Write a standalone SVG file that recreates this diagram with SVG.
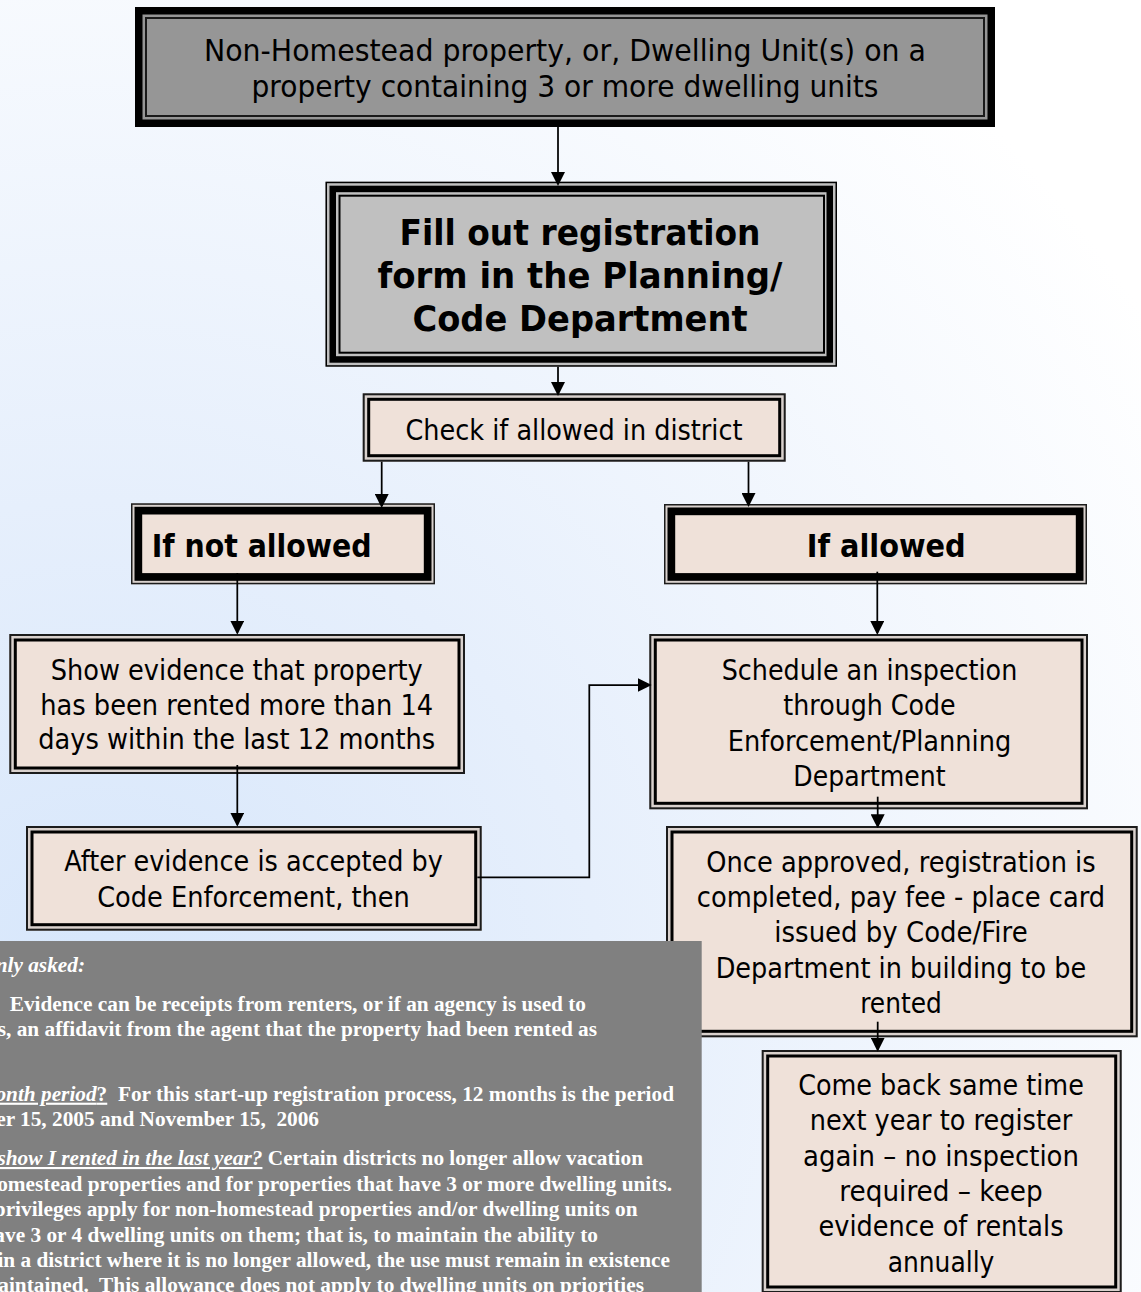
<svg xmlns="http://www.w3.org/2000/svg" width="1141" height="1292" viewBox="0 0 1141 1292">
<defs>
<radialGradient id="bg" gradientUnits="userSpaceOnUse" cx="100" cy="1000" r="1250">
<stop offset="0" stop-color="#d6e6fb"/>
<stop offset="0.4" stop-color="#e6effc"/>
<stop offset="1" stop-color="#ffffff"/>
</radialGradient>
<marker id="ah" markerUnits="userSpaceOnUse" markerWidth="14" markerHeight="14" viewBox="0 0 14 14" refX="12" refY="7" orient="auto"><path d="M0,0 L14,7 L0,14 Z" fill="#000"/></marker>
</defs>
<style>
.nt{font-family:"DejaVu Sans",Verdana,sans-serif;font-size:28.5px;fill:#000;text-anchor:middle}
.b{font-weight:bold}
.gapb{fill:#d9d1cd}
.ol{fill:none;stroke:#1c1c1c;stroke-width:2}
.il{fill:#efe1d9;stroke:#000;stroke-width:3}
.iol{fill:none;stroke:#1c1c1c;stroke-width:1.5}
.ith{fill:#efe1d9;stroke:#000;stroke-width:7.7}
.conn{fill:none;stroke:#000;stroke-width:1.75;marker-end:url(#ah)}
.nn{font-family:"Liberation Serif","Times New Roman",serif;font-size:21.3px;font-weight:bold;fill:#ffffff;text-anchor:end}
.iu{font-style:italic;text-decoration:underline}
</style>
<rect x="0" y="0" width="1141" height="1292" fill="url(#bg)"/>

<g id="n-start">
<rect x="135" y="7" width="860" height="120" fill="#000"/>
<rect x="142.5" y="14.5" width="845" height="105" fill="#969696"/>
<rect x="146" y="18" width="838" height="98" fill="none" stroke="#1a1a1a" stroke-width="2"/>
<text class="nt" style="font-size:30px" x="565" y="61" textLength="722" lengthAdjust="spacingAndGlyphs">Non-Homestead property, or, Dwelling Unit(s) on a</text>
<text class="nt" style="font-size:30px" x="565" y="97" textLength="627" lengthAdjust="spacingAndGlyphs">property containing 3 or more dwelling units</text>
</g>

<g id="n-form">
<rect x="325.5" y="181.7" width="511.5" height="185" fill="#c0c0c0"/>
<rect x="326.25" y="182.45" width="510" height="183.5" fill="none" stroke="#000" stroke-width="1.5"/>
<rect x="332.75" y="188.95" width="497" height="170.5" fill="none" stroke="#000" stroke-width="6.5"/>
<rect x="339.5" y="195.7" width="484.5" height="157" fill="none" stroke="#000" stroke-width="2"/>
<text class="nt b" style="font-size:35px" x="580" y="245" textLength="361" lengthAdjust="spacingAndGlyphs">Fill out registration</text>
<text class="nt b" style="font-size:35px" x="580" y="288" textLength="405" lengthAdjust="spacingAndGlyphs">form in the Planning/</text>
<text class="nt b" style="font-size:35px" x="580" y="331" textLength="335" lengthAdjust="spacingAndGlyphs">Code Department</text>
</g>

<g id="n-check">
<rect class="gapb" x="362.7" y="393.3" width="423" height="68.4"/>
<rect class="ol" x="363.7" y="394.3" width="421" height="66.4"/>
<rect class="il" x="368.7" y="399.3" width="411" height="56.4"/>
<text class="nt" x="574" y="440" textLength="337" lengthAdjust="spacingAndGlyphs">Check if allowed in district</text>
</g>

<g id="n-notallowed">
<rect class="gapb" x="131" y="503.3" width="304" height="81"/>
<rect class="iol" x="131.75" y="504.05" width="302.5" height="79.5"/>
<rect class="ith" x="138.35" y="510.65" width="289.3" height="66.3"/>
<text class="nt b" style="font-size:32px" x="261.7" y="557.3" textLength="220" lengthAdjust="spacingAndGlyphs">If not allowed</text>
</g>

<g id="n-allowed">
<rect class="gapb" x="664" y="504" width="423" height="80.3"/>
<rect class="iol" x="664.75" y="504.75" width="421.5" height="78.8"/>
<rect class="ith" x="671.35" y="511.35" width="408.3" height="65.6"/>
<text class="nt b" style="font-size:32px" x="886.2" y="556.7" textLength="159" lengthAdjust="spacingAndGlyphs">If allowed</text>
</g>

<g id="n-evidence">
<rect class="gapb" x="9.3" y="634" width="455.7" height="140"/>
<rect class="ol" x="10.3" y="635" width="453.7" height="138"/>
<rect class="il" x="15.3" y="640" width="443.7" height="128"/>
<text class="nt" x="236.7" y="680" textLength="372" lengthAdjust="spacingAndGlyphs">Show evidence that property</text>
<text class="nt" x="236.7" y="715" textLength="393" lengthAdjust="spacingAndGlyphs">has been rented more than 14</text>
<text class="nt" x="236.7" y="749.3" textLength="397" lengthAdjust="spacingAndGlyphs">days within the last 12 months</text>
</g>

<g id="n-after">
<rect class="gapb" x="26" y="826" width="455.7" height="104.7"/>
<rect class="ol" x="27" y="827" width="453.7" height="102.7"/>
<rect class="il" x="32" y="832" width="443.7" height="92.7"/>
<text class="nt" x="253.5" y="870.7" textLength="378.7" lengthAdjust="spacingAndGlyphs">After evidence is accepted by</text>
<text class="nt" x="253.5" y="906.7" textLength="312.6" lengthAdjust="spacingAndGlyphs">Code Enforcement, then</text>
</g>

<g id="n-schedule">
<rect class="gapb" x="649.3" y="634" width="438.7" height="175.3"/>
<rect class="ol" x="650.3" y="635" width="436.7" height="173.3"/>
<rect class="il" x="655.3" y="640" width="426.7" height="163.3"/>
<text class="nt" x="869.5" y="680" textLength="295.6" lengthAdjust="spacingAndGlyphs">Schedule an inspection</text>
<text class="nt" x="869.5" y="715.3" textLength="172.4" lengthAdjust="spacingAndGlyphs">through Code</text>
<text class="nt" x="869.5" y="750.6" textLength="283.6" lengthAdjust="spacingAndGlyphs">Enforcement/Planning</text>
<text class="nt" x="869.5" y="785.9" textLength="152.4" lengthAdjust="spacingAndGlyphs">Department</text>
</g>

<g id="n-approved">
<rect class="gapb" x="666" y="826" width="471.7" height="211.3"/>
<rect class="ol" x="667" y="827" width="469.7" height="209.3"/>
<rect class="il" x="672" y="832" width="459.7" height="199.3"/>
<text class="nt" x="901" y="871.7" textLength="389.3" lengthAdjust="spacingAndGlyphs">Once approved, registration is</text>
<text class="nt" x="901" y="907" textLength="408.3" lengthAdjust="spacingAndGlyphs">completed, pay fee - place card</text>
<text class="nt" x="901" y="942.3" textLength="253.3" lengthAdjust="spacingAndGlyphs">issued by Code/Fire</text>
<text class="nt" x="901" y="977.6" textLength="370.7" lengthAdjust="spacingAndGlyphs">Department in building to be</text>
<text class="nt" x="901" y="1012.7" textLength="81.7" lengthAdjust="spacingAndGlyphs">rented</text>
</g>

<g id="n-comeback">
<rect class="gapb" x="761.7" y="1050" width="360" height="243"/>
<rect class="ol" x="762.7" y="1051" width="358" height="241"/>
<rect class="il" x="767.7" y="1056" width="348" height="231"/>
<text class="nt" x="941" y="1095" textLength="285.7" lengthAdjust="spacingAndGlyphs">Come back same time</text>
<text class="nt" x="941" y="1130.3" textLength="262.4" lengthAdjust="spacingAndGlyphs">next year to register</text>
<text class="nt" x="941" y="1165.6" textLength="276" lengthAdjust="spacingAndGlyphs">again – no inspection</text>
<text class="nt" x="941" y="1200.9" textLength="203.4" lengthAdjust="spacingAndGlyphs">required – keep</text>
<text class="nt" x="941" y="1236.2" textLength="245" lengthAdjust="spacingAndGlyphs">evidence of rentals</text>
<text class="nt" x="941" y="1271.5" textLength="106.7" lengthAdjust="spacingAndGlyphs">annually</text>
</g>

<g id="connectors">
<path class="conn" d="M558,127 V184"/>
<path class="conn" d="M558,366.7 V394"/>
<path class="conn" d="M381.7,461.7 V506"/>
<path class="conn" d="M748.5,461.7 V505"/>
<path class="conn" d="M237.3,573 V632.7"/>
<path class="conn" d="M877.3,571.7 V633"/>
<path class="conn" d="M237.3,765 V824.7"/>
<path class="conn" d="M477.3,877.3 H589.3 V685 H649.7"/>
<path class="conn" d="M877.7,796.7 V826.3"/>
<path class="conn" d="M877.7,1021.7 V1049.7"/>
</g>

<g id="note">
<rect x="0" y="941" width="701.7" height="351" fill="#808080"/>
<text class="nn" x="85" y="971.7" font-style="italic">nly asked:</text>
<text class="nn" x="586" y="1011">Evidence can be receipts from renters, or if an agency is used to</text>
<text class="nn" x="597" y="1036">s, an affidavit from the agent that the property had been rented as</text>
<text class="nn" x="674" y="1100.7" xml:space="preserve"><tspan class="iu">onth period</tspan><tspan text-decoration="underline">?</tspan>  For this start-up registration process, 12 months is the period</text>
<text class="nn" x="319" y="1125.7" xml:space="preserve">er 15, 2005 and November 15,  2006</text>
<text class="nn" x="643" y="1165" xml:space="preserve"><tspan class="iu">show I rented in the last year?</tspan> Certain districts no longer allow vacation</text>
<text class="nn" x="672" y="1191">omestead properties and for properties that have 3 or more dwelling units.</text>
<text class="nn" x="637.5" y="1216">privileges apply for non-homestead properties and/or dwelling units on</text>
<text class="nn" x="598" y="1241.7">ave 3 or 4 dwelling units on them; that is, to maintain the ability to</text>
<text class="nn" x="670" y="1267.3">in a district where it is no longer allowed, the use must remain in existence</text>
<text class="nn" x="644" y="1291.7" xml:space="preserve">aintained.  This allowance does not apply to dwelling units on priorities</text>
</g>
</svg>
